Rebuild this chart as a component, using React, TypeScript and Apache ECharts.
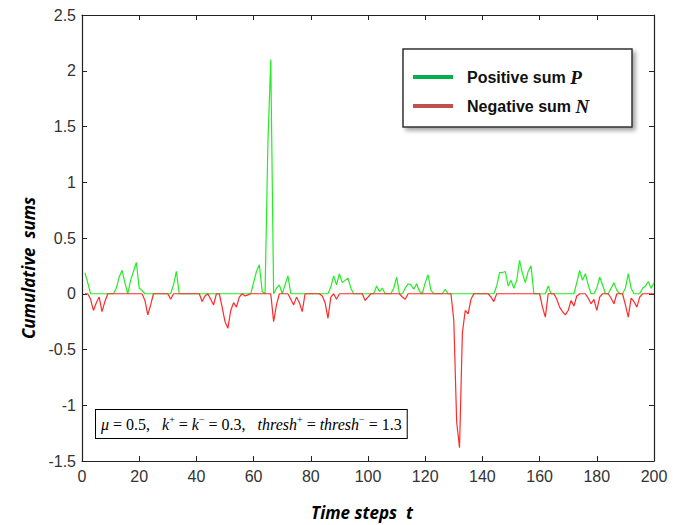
import React, { useEffect, useRef } from "react";
import * as echarts from "echarts";

// Positive cumulative sum P, t = 1..200
const positiveSum: number[] = [
  0.19, 0.1, 0, 0, 0, 0, 0, 0, 0, 0,
  0, 0.05, 0.15, 0.21, 0.1, 0, 0.12, 0.2, 0.28, 0.05,
  0.03, 0, 0, 0, 0, 0, 0, 0, 0, 0,
  0, 0.08, 0.2, 0, 0, 0, 0, 0, 0, 0,
  0, 0, 0, 0, 0, 0, 0, 0, 0, 0,
  0, 0, 0, 0, 0, 0, 0, 0, 0, 0.1,
  0.2, 0.26, 0.02, 0, 1.35, 2.1, 0, 0.05, 0.08, 0,
  0.08, 0.16, 0, 0, 0, 0, 0, 0, 0, 0,
  0, 0, 0, 0, 0, 0, 0.06, 0.16, 0.08, 0.18,
  0.1, 0.12, 0.14, 0.05, 0, 0, 0, 0, 0, 0,
  0, 0, 0.07, 0.02, 0.05, 0, 0, 0, 0.05, 0.15,
  0, 0, 0.05, 0.09, 0.08, 0.04, 0.09, 0.02, 0, 0.1,
  0.17, 0.03, 0, 0, 0, 0, 0.04, 0, 0, 0,
  0, 0, 0, 0, 0, 0, 0, 0, 0, 0,
  0, 0, 0, 0, 0.07, 0.19, 0.19, 0.2, 0.07, 0.12,
  0.05, 0.12, 0.3, 0.18, 0.1, 0.2, 0.25, 0, 0, 0,
  0, 0, 0.07, 0, 0, 0, 0, 0, 0, 0,
  0, 0, 0.1, 0.21, 0.12, 0.18, 0.08, 0, 0, 0.05,
  0.15, 0.08, 0, 0, 0.05, 0.1, 0.03, 0, 0, 0.05,
  0.18, 0.05, 0, 0, 0, 0.05, 0.07, 0.11, 0.05, 0.1,
];

// Negative cumulative sum N, t = 1..200
const negativeSum: number[] = [
  0, 0, -0.05, -0.15, -0.08, -0.03, -0.16, -0.07, 0, 0,
  0, 0, 0, 0, 0, 0, 0, 0, 0, 0,
  0, -0.06, -0.19, -0.1, 0, 0, 0, 0, 0, 0,
  -0.05, 0, 0, 0, 0, 0, 0, 0, 0, 0,
  0, -0.07, -0.02, 0, -0.05, -0.1, 0, 0, -0.12, -0.25,
  -0.31, -0.15, -0.08, -0.12, -0.03, 0, -0.02, -0.01, 0, 0,
  0, 0, 0, 0, 0, 0, -0.25, -0.1, 0, 0,
  0, 0, -0.05, -0.1, -0.03, -0.08, -0.16, 0, 0, 0,
  0, 0, 0, -0.02, -0.08, -0.22, -0.03, 0, -0.05, 0,
  0, 0, 0, 0, 0, 0, 0, 0, -0.06, -0.03,
  0, 0, 0, 0, 0, 0, 0, 0, 0, 0,
  0, -0.03, -0.05, 0, 0, 0, 0, 0, 0, 0,
  0, 0, 0, 0, 0, 0, 0, 0, 0, -0.24,
  -1.15, -1.38, -0.35, -0.15, -0.18, -0.05, 0, 0, 0, 0,
  0, 0, -0.03, -0.07, 0, 0, 0, 0, 0, 0,
  0, 0, 0, 0, 0, 0, 0, 0, 0, 0,
  -0.12, -0.21, 0, 0, 0, -0.05, -0.12, -0.16, -0.19, -0.15,
  -0.06, -0.11, -0.02, 0, 0, 0, -0.04, -0.09, -0.05, -0.15,
  -0.03, 0, 0, 0, -0.04, -0.09, 0, 0, 0, -0.1,
  -0.21, -0.04, -0.07, -0.12, -0.03, 0, 0, 0, 0, 0,
];

const timeSteps: number[] = positiveSum.map((_, i) => i + 1);

const xRange = { min: 0, max: 200, interval: 20 };
const yRange = { min: -1.5, max: 2.5, interval: 0.5 };

const legendLabels = ["Positive sum ", "Negative sum "];
const legendSymbols = ["P", "N"];
const xTitle = "Time steps  t";
const yTitle = "Cumulative  sums";

export default function App() {
  const ref = useRef<HTMLDivElement>(null);

  useEffect(() => {
    if (!ref.current) return;
    const chart = echarts.init(ref.current, undefined, { renderer: "svg" });

    const labelFont = {
      fontFamily: "Liberation Sans, Arial, sans-serif",
      fontSize: 16,
      color: "#333",
    };
    const axisLine = { show: true, onZero: false, lineStyle: { color: "#222", width: 1.2 } };
    const tick = { show: true, inside: true, length: 5, lineStyle: { color: "#222", width: 1 } };

    const serif = "Liberation Serif, Times New Roman, serif";
    const rich = {
      n: { fontFamily: serif, fontSize: 16, color: "#000", lineHeight: 20 },
      i: { fontFamily: serif, fontSize: 16, fontStyle: "italic", color: "#000", lineHeight: 20 },
      s: { fontFamily: serif, fontSize: 10, color: "#000", lineHeight: 20, verticalAlign: "top" },
    };

    const titleStyle = {
      fontFamily: "Open Sans, sans-serif",
      fontWeight: "bold",
      fontStyle: "italic",
      fontSize: 17,
      fill: "#000",
      align: "center",
      verticalAlign: "middle",
    };

    chart.setOption({
      animation: false,
      backgroundColor: "#fff",
      grid: { left: 82, right: 23, top: 15, bottom: 64, show: false },
      xAxis: [
        {
          type: "value",
          position: "bottom",
          ...xRange,
          axisLine,
          axisTick: tick,
          axisLabel: { ...labelFont, margin: 7 },
          splitLine: { show: false },
        },
        {
          type: "value",
          position: "top",
          ...xRange,
          axisLine,
          axisTick: tick,
          axisLabel: { show: false },
          splitLine: { show: false },
        },
      ],
      yAxis: [
        {
          type: "value",
          position: "left",
          ...yRange,
          axisLine,
          axisTick: tick,
          axisLabel: { ...labelFont, margin: 6 },
          splitLine: { show: false },
        },
        {
          type: "value",
          position: "right",
          ...yRange,
          axisLine,
          axisTick: tick,
          axisLabel: { show: false },
          splitLine: { show: false },
        },
      ],
      series: [
        {
          type: "line",
          name: "P",
          data: timeSteps.map((t, i) => [t, positiveSum[i]]),
          showSymbol: false,
          lineStyle: { color: "#22ee22", width: 1.2 },
          z: 2,
        },
        {
          type: "line",
          name: "N",
          data: timeSteps.map((t, i) => [t, negativeSum[i]]),
          showSymbol: false,
          lineStyle: { color: "#ff2a2a", width: 1.2 },
          z: 3,
        },
      ],
      graphic: [
        {
          type: "text",
          x: 28,
          y: 268,
          rotation: Math.PI / 2,
          style: { text: yTitle, ...titleStyle },
        },
        {
          type: "text",
          x: 362,
          y: 512,
          style: { text: xTitle, ...titleStyle },
        },
        {
          type: "rect",
          shape: { x: 403, y: 49, width: 229, height: 78 },
          style: {
            fill: "#fff",
            stroke: "#333",
            lineWidth: 1.5,
            shadowBlur: 4,
            shadowOffsetX: 3,
            shadowOffsetY: 3,
            shadowColor: "rgba(0,0,0,0.35)",
          },
          z: 10,
        },
        {
          type: "line",
          shape: { x1: 413, y1: 77, x2: 453, y2: 77 },
          style: { stroke: "#00b050", lineWidth: 4 },
          z: 11,
        },
        {
          type: "line",
          shape: { x1: 413, y1: 106, x2: 453, y2: 106 },
          style: { stroke: "#c0504d", lineWidth: 4 },
          z: 11,
        },
        ...legendLabels.map((lab, k) => ({
          type: "text",
          x: 467,
          y: k === 0 ? 77 : 106,
          z: 11,
          style: {
            text: `{a|${lab}}{b|${legendSymbols[k]}}`,
            verticalAlign: "middle",
            rich: {
              a: { fontFamily: "Liberation Sans, Arial, sans-serif", fontWeight: "bold", fontSize: 16, fill: "#111" },
              b: { fontFamily: serif, fontStyle: "italic", fontWeight: "bold", fontSize: 19, fill: "#111" },
            },
          },
        })),
        {
          type: "text",
          x: 96,
          y: 410,
          z: 11,
          style: {
            text:
              "{i|μ}{n| = 0.5,   }{i|k}{s|+}{n| = }{i|k}{s|−}{n| = 0.3,   }{i|thresh}{s|+}{n| = }{i|thresh}{s|−}{n| = 1.3}",
            backgroundColor: "#fff",
            borderColor: "#000",
            borderWidth: 1,
            padding: [4, 5, 4, 5],
            rich,
          },
        },
      ],
    });

    return () => chart.dispose();
  }, []);

  return (
    <div
      ref={ref}
      style={{ position: "fixed", left: 0, top: 0, width: 677, height: 525, background: "#fff" }}
    />
  );
}
